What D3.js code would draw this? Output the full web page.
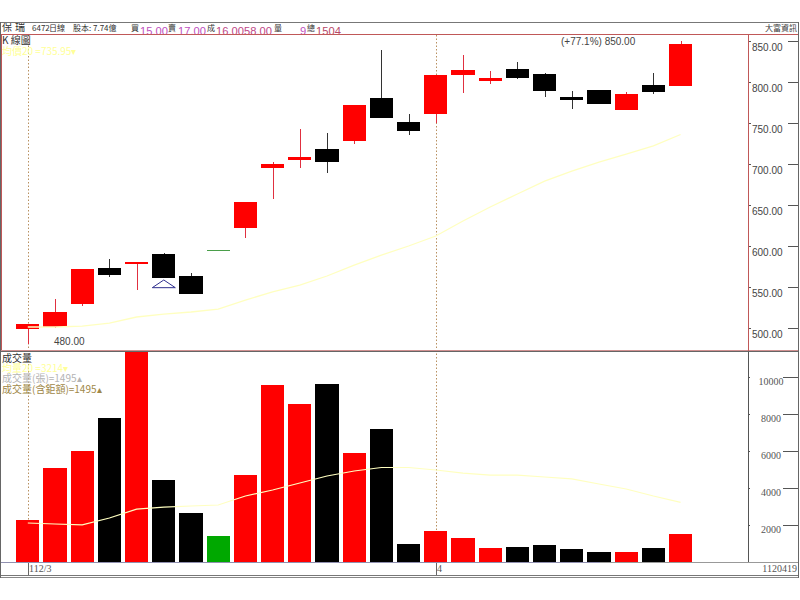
<!DOCTYPE html>
<html>
<head>
<meta charset="utf-8">
<script src="https://cdn.jsdelivr.net/npm/d3@7"></script>
<style>
    html, body { margin: 0; padding: 0; background: #fff; }
    svg { display: block; }
    text { font-family: "Noto Sans CJK TC", sans-serif; font-size: 10px; fill: #404040; }
    .num { font-family: "Liberation Sans", sans-serif; font-size: 10px; fill: #444; }
    .serif { font-family: "Liberation Serif", serif; font-size: 10px; fill: #555; }
    .bar, .frame { shape-rendering: crispEdges; }
    .axis path { display: none; }
    .axis line { stroke: #555; shape-rendering: crispEdges; }
</style>
</head>
<body>
<div id="chart"></div>
<script>
// one entry per trading day, left to right
const opens  = [498.4, 501.6, 529.3, 572.8, 578.5, 590, 563.7, 595, 622.3, 695.5, 705, 718, 728.4, 781, 751, 760.6, 808.5, 801, 815.5, 809.4, 782, 790.6, 766, 796.7, 795.5];
const closes = [504.5, 519.5, 571.6, 564.3, 580, 561.4, 541.5, 595, 654, 699.6, 709, 702.4, 772.3, 756.5, 740, 808, 814.3, 804.5, 805, 788.7, 778.4, 773, 785.4, 788, 846.3];
const highs  = [505, 535, 572, 584, 581, 591, 566.7, 595, 654, 703, 743, 738, 772.3, 839, 761, 808, 833, 814, 824, 810.6, 789, 790.6, 788, 810.6, 850];
const lows   = [480, 500, 527, 562, 546, 561, 541.5, 595, 610, 657, 695.5, 688.6, 724, 756.5, 735, 750, 786, 798, 803.7, 781.7, 767, 773, 766, 785.7, 795.5];
const priceAvg = [501.2, 501.2, 502.4, 506, 513.4, 517, 519.5, 523, 534, 544, 552.4, 563.4, 576.8, 589, 600, 612.2, 630.5, 647.6, 663.4, 679, 691.3, 702.4, 712, 722, 735.95];
const volumes = [2260, 5070, 6000, 7780, 11500, 4420, 2640, 1390, 4690, 9570, 8540, 9600, 5890, 7160, 940, 1650, 1270, 760, 770, 930, 690, 525, 525, 715, 1495];
const volumeAvg = [2095, 2040, 1990, 2365, 2850, 2960, 3015, 3070, 3555, 3880, 4260, 4640, 4910, 5100, 5100, 4965, 4800, 4690, 4690, 4585, 4480, 4205, 3935, 3555, 3214];
// bar colour of each day: up, down, flat
const directions = ['u','u','u','d','u','d','d','f','u','u','u','d','u','d','d','u','u','u','d','d','d','d','u','d','u'];

const priceTicks = [500, 550, 600, 650, 700, 750, 800, 850];
const volumeTicks = [2000, 4000, 6000, 8000, 10000];
const monthTicks = [{ day: 0, label: '112/3' }, { day: 15, label: '4' }];
const markerDay = 5;

const headerTexts = [
    { x: 2, text: '保', color: '#333', size: 10 },
    { x: 15, text: '瑞', color: '#333', size: 10 },
    { x: 32, text: '6472', color: '#333', size: 8 },
    { x: 49, text: '日線', color: '#333', size: 8 },
    { x: 73, text: '股本: 7.74億', color: '#333', size: 8 },
    { x: 131, text: '買', color: '#333', size: 8 },
    { x: 140, text: '15.00', color: '#c050c0', size: 11.2 },
    { x: 168, text: '賣', color: '#333', size: 8 },
    { x: 178, text: '17.00', color: '#c050c0', size: 11.2 },
    { x: 207, text: '成', color: '#333', size: 8 },
    { x: 216, text: '16.0058.00', color: '#c04888', size: 11.2 },
    { x: 274, text: '量', color: '#333', size: 8 },
    { x: 300, text: '9', color: '#c050c0', size: 11.2 },
    { x: 307, text: '總', color: '#333', size: 8 },
    { x: 316, text: '1504', color: '#b84868', size: 11.2 }
];
const priceLabels = [
    { y: 44, text: 'K 線圖', color: '#333' },
    { y: 55, text: '均價20 =735.95▾', color: '#ffff99' }
];
const volumeLabels = [
    { y: 362, text: '成交量', color: '#333' },
    { y: 372, text: '均量20 =3214▾', color: '#ffff99' },
    { y: 382, text: '成交量(張)=1495▴', color: '#b4b4b4' },
    { y: 393, text: '成交量(含鉅額)=1495▴', color: '#a08848' }
];

const colors = { u: '#ff0000', d: '#000000', f: '#00a800' };
const width = 800, height = 600;
const plotRight = 748, frameRight = 798;

const svg = d3.select('#chart').append('svg')
    .attr('width', width)
    .attr('height', height);

const x = d3.scaleBand()
    .domain(d3.range(opens.length))
    .range([14.2, 694.2])
    .paddingInner(0.154)
    .paddingOuter(0.077);
const xMid = i => x(i) + x.bandwidth() / 2;

const yPrice = d3.scaleLinear().domain([500, 850]).range([328, 41]);
const yVolume = d3.scaleLinear().domain([0, 10000]).range([561.7, 377]);

svg.append('clipPath').attr('id', 'headerClip')
    .append('rect').attr('x', 0).attr('y', 23).attr('width', width).attr('height', 11);
svg.append('clipPath').attr('id', 'volumeClip')
    .append('rect').attr('x', 0).attr('y', 352).attr('width', plotRight).attr('height', 210);

function hline(y, x1, x2, color) {
    svg.append('line').attr('class', 'frame')
        .attr('x1', x1).attr('x2', x2).attr('y1', y).attr('y2', y)
        .attr('stroke', color);
}
function vline(xPos, y1, y2, color) {
    svg.append('line').attr('class', 'frame')
        .attr('x1', xPos).attr('x2', xPos).attr('y1', y1).attr('y2', y2)
        .attr('stroke', color);
}

// month guides go behind everything
monthTicks.forEach(t => {
    svg.append('line')
        .attr('x1', Math.round(xMid(t.day)) + 0.5).attr('x2', Math.round(xMid(t.day)) + 0.5)
        .attr('y1', 35).attr('y2', 562)
        .attr('stroke', '#b89060')
        .attr('stroke-dasharray', '1.5,2');
});

drawPricePanel();
drawVolumePanel();
drawFrame();
drawTexts();

function drawPricePanel() {
    const days = d3.range(opens.length);

    svg.append('g').selectAll('line')
        .data(days)
        .join('line')
        .attr('class', 'bar')
        .attr('x1', i => Math.round(xMid(i)) + 0.5)
        .attr('x2', i => Math.round(xMid(i)) + 0.5)
        .attr('y1', i => yPrice(highs[i]))
        .attr('y2', i => yPrice(lows[i]))
        .attr('stroke', i => directions[i] === 'u' ? '#e03040' : directions[i] === 'd' ? '#333' : colors.f);

    svg.append('g').selectAll('rect')
        .data(days)
        .join('rect')
        .attr('class', 'bar')
        .attr('x', i => x(i))
        .attr('width', x.bandwidth())
        .attr('y', i => yPrice(Math.max(opens[i], closes[i])))
        .attr('height', i => Math.max(1, Math.abs(yPrice(opens[i]) - yPrice(closes[i]))))
        .attr('fill', i => directions[i] === 'f' ? '#4a9e4a' : colors[directions[i]]);

    const avgLine = d3.line().x((d, i) => xMid(i)).y(d => yPrice(d));
    svg.append('path')
        .attr('d', avgLine(priceAvg))
        .attr('fill', 'none')
        .attr('stroke', '#ffffc0')
        .attr('stroke-width', 1.3);

    // small triangle under the low of the marked day
    const markY = yPrice(lows[markerDay]);
    svg.append('path')
        .attr('d', `M${x(markerDay)},${markY + 9.7}H${x(markerDay) + x.bandwidth()}L${xMid(markerDay)},${markY + 2}Z`)
        .attr('fill', 'none')
        .attr('stroke', '#30308f');

    svg.append('text').attr('class', 'num')
        .attr('x', 561).attr('y', yPrice(850) + 4)
        .text('(+77.1%) 850.00');
    svg.append('text').attr('class', 'num')
        .attr('x', 54).attr('y', yPrice(480) + 0.5)
        .text('480.00');

    const axis = svg.append('g').attr('class', 'axis')
        .attr('transform', `translate(${plotRight},0)`)
        .call(d3.axisRight(yPrice).tickValues(priceTicks).tickSize(3).tickFormat(d3.format('.2f')));
    axis.selectAll('text')
        .attr('class', 'num')
        .attr('x', 4)
        .attr('dy', '0.92em');
    svg.append('g').attr('class', 'axis')
        .attr('transform', `translate(${frameRight},0)`)
        .call(d3.axisLeft(yPrice).tickValues(priceTicks).tickSize(10).tickFormat(''));
}

function drawVolumePanel() {
    const days = d3.range(volumes.length);

    svg.append('g').attr('clip-path', 'url(#volumeClip)')
        .selectAll('rect')
        .data(days)
        .join('rect')
        .attr('class', 'bar')
        .attr('x', i => x(i))
        .attr('width', x.bandwidth())
        .attr('y', i => yVolume(volumes[i]))
        .attr('height', i => yVolume(0) - yVolume(volumes[i]))
        .attr('fill', i => colors[directions[i]]);

    const avgLine = d3.line().x((d, i) => xMid(i)).y(d => yVolume(d));
    svg.append('path')
        .attr('d', avgLine(volumeAvg))
        .attr('fill', 'none')
        .attr('stroke', '#ffffc0')
        .attr('stroke-width', 1.2);

    const axis = svg.append('g').attr('class', 'axis')
        .attr('transform', `translate(${plotRight},0)`)
        .call(d3.axisRight(yVolume).tickValues(volumeTicks).tickSize(2).tickFormat(d3.format('d')));
    axis.selectAll('text')
        .attr('class', 'serif')
        .attr('x', 23)
        .attr('dy', '0.78em')
        .attr('text-anchor', 'middle');
    svg.append('g').attr('class', 'axis')
        .attr('transform', `translate(${frameRight},0)`)
        .call(d3.axisLeft(yVolume).tickValues(volumeTicks).tickSize(15).tickFormat(''));
}

function drawFrame() {
    hline(22.5, 0, frameRight, '#777');
    hline(34.5, 0, frameRight, '#c05858');
    hline(350.5, 0, frameRight, '#d09090');
    hline(351.5, 0, frameRight, '#666');
    hline(562.5, 0, 600, '#9090b0');
    hline(562.5, 600, frameRight, '#999');
    hline(575.5, 0, frameRight, '#777');
    hline(577.5, 0, frameRight, '#888');
    vline(0.5, 22, 578, '#666');
    vline(1.5, 35, 350, '#c05858');
    vline(frameRight + 0.5, 22, 578, '#666');
    vline(plotRight + 0.5, 35, 351, '#c05858');
    vline(plotRight + 0.5, 352, 562, '#555');
    monthTicks.forEach(t => {
        vline(Math.round(xMid(t.day)) + 0.5, 563, 575, '#666');
    });
}

function drawTexts() {
    const big = d => d.size > 11;
    svg.append('g').attr('clip-path', 'url(#headerClip)')
        .selectAll('text')
        .data(headerTexts)
        .join('text')
        .attr('x', d => d.x)
        .attr('y', d => big(d) ? 35 : 31)
        .style('font-family', d => big(d) ? '"Liberation Sans", sans-serif' : null)
        .style('font-size', d => d.size + 'px')
        .style('fill', d => d.color)
        .text(d => d.text);

    svg.append('text')
        .attr('x', frameRight - 1).attr('y', 31)
        .attr('text-anchor', 'end')
        .style('font-size', '8px')
        .text('大富資訊');

    svg.append('g').selectAll('text')
        .data(priceLabels.concat(volumeLabels))
        .join('text')
        .attr('x', 2)
        .attr('y', d => d.y)
        .style('fill', d => d.color)
        .text(d => d.text);

    svg.append('g').selectAll('text')
        .data(monthTicks)
        .join('text')
        .attr('class', 'serif')
        .attr('x', d => Math.round(xMid(d.day)) + 1)
        .attr('y', 572)
        .text(d => d.label);

    svg.append('text').attr('class', 'serif')
        .attr('x', frameRight - 1).attr('y', 572)
        .attr('text-anchor', 'end')
        .text('1120419');
}
</script>
</body>
</html>
